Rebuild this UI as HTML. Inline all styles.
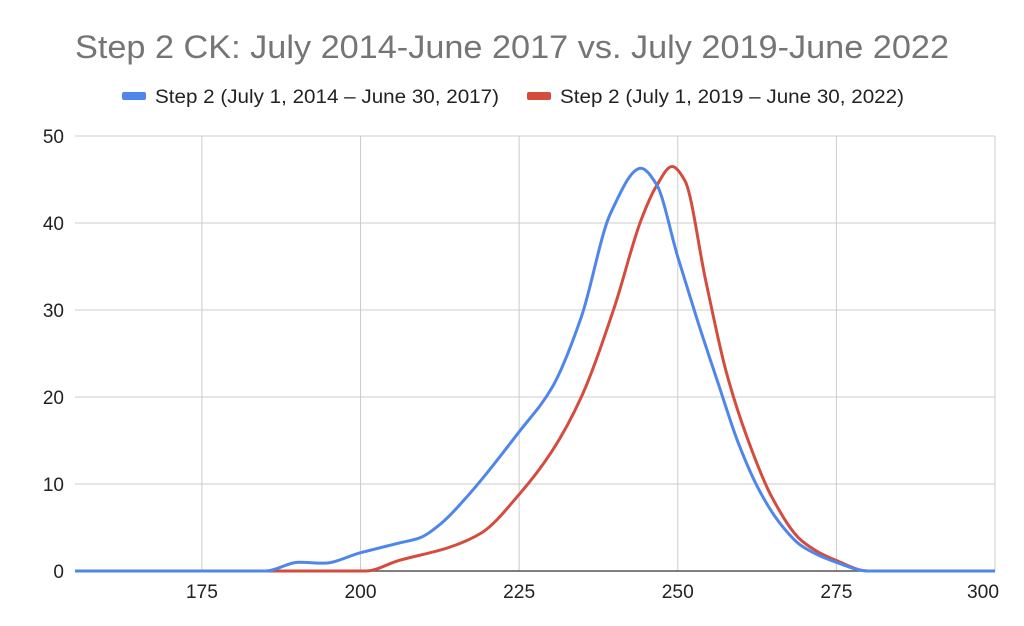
<!DOCTYPE html>
<html><head><meta charset="utf-8">
<style>
html,body{margin:0;padding:0;background:#fff;}
svg{display:block;font-family:"Liberation Sans",Arial,sans-serif;}
</style></head>
<body>
<svg id="chart" width="1024" height="626" viewBox="0 0 1024 626">
  <text x="512" y="58" text-anchor="middle" font-size="32" fill="#757575" textLength="874" lengthAdjust="spacingAndGlyphs">Step 2 CK: July 2014-June 2017 vs. July 2019-June 2022</text>
  <g>
    <g>
      <rect x="122" y="92" width="24" height="8" rx="2" fill="#4f86ec"/>
      <text x="155" y="103" font-size="19" fill="#222" textLength="344" lengthAdjust="spacingAndGlyphs">Step 2 (July 1, 2014 – June 30, 2017)</text>
    </g>
    <g>
      <rect x="527" y="92" width="24" height="8" rx="2" fill="#d44c3e"/>
      <text x="560" y="103" font-size="19" fill="#222" textLength="344" lengthAdjust="spacingAndGlyphs">Step 2 (July 1, 2019 – June 30, 2022)</text>
    </g>
  </g>
  <g id="grid"></g>
  <g id="axes"></g>
  <g id="series"></g>
</svg>
<script>
const xTicks = [175, 200, 225, 250, 275, 300];
const yTicks = [0, 10, 20, 30, 40, 50];
const blueX = [155, 185, 190.3, 194.2, 200, 206, 209.3, 212.6, 217.1, 225, 230.2, 234.8, 239.4, 244.2, 246.6, 250, 253.1, 256.4, 259.6, 262.9, 266.2, 269.5, 275, 280, 300];
const blueY = [0, 0, 1.0, 0.9, 2.1, 3.2, 3.8, 5.4, 8.8, 16, 21.1, 29.2, 41.1, 46.3, 44.5, 36.1, 28.8, 21.5, 14.6, 9.2, 5.4, 2.9, 1.0, 0, 0];
const redX = [155, 200.8, 206, 213.9, 219.1, 225, 230.2, 234.8, 240, 244.2, 246.6, 249.1, 251.1, 254.4, 257.6, 260.9, 264.9, 269.5, 275, 280, 300];
const redY = [0, 0, 1.2, 2.7, 4.4, 8.8, 13.8, 20, 30.3, 40.3, 44.2, 46.5, 44.9, 33.4, 23, 15.4, 8.4, 3.5, 1.2, 0, 0];

const NS = "http://www.w3.org/2000/svg";
const X0 = 75, X1 = 995, Y0 = 571, Y1 = 136;
const xMin = 155, xMax = 300, yMin = 0, yMax = 50;
function sx(v){ return X0 + (v - xMin) / (xMax - xMin) * (X1 - X0); }
function sy(v){ return Y0 - (v - yMin) / (yMax - yMin) * (Y0 - Y1); }
function mk(tag, attrs, parent){ const e = document.createElementNS(NS, tag); for (const k in attrs) e.setAttribute(k, attrs[k]); parent.appendChild(e); return e; }

const grid = document.getElementById('grid');
const axes = document.getElementById('axes');
for (const t of yTicks) {
  if (t !== 0) {
    const l = mk('line', {x1: X0, x2: X1, y1: sy(t), y2: sy(t), stroke: '#cccccc', 'stroke-width': 1}, grid);
    
    
  }
  const tx = mk('text', {x: 64, y: sy(t) + 7, 'text-anchor': 'end', 'font-size': 19, fill: '#222'}, axes);
  tx.textContent = t;
  
  
}
for (const t of xTicks) {
  const l = mk('line', {x1: sx(t), x2: sx(t), y1: Y1, y2: Y0, stroke: '#cccccc', 'stroke-width': 1}, grid);
  
  
  const tx = mk('text', {x: sx(t), y: 598, 'text-anchor': t === 300 ? 'end' : 'middle', 'font-size': 19, fill: '#222', textLength: 32, lengthAdjust: 'spacingAndGlyphs'}, axes);
  if (t === 300) tx.setAttribute('x', sx(t) + 4);
  tx.textContent = t;
  
  
}
const base = mk('line', {x1: X0, x2: X1, y1: Y0, y2: Y0, stroke: '#555', 'stroke-width': 1.5}, axes);



// monotone cubic (Fritsch-Carlson) in data space
function smoothPath(xs, ys){
  const n = xs.length, d = [], m = new Array(n);
  for (let i = 0; i < n - 1; i++) d.push((ys[i+1] - ys[i]) / (xs[i+1] - xs[i]));
  m[0] = d[0]; m[n-1] = d[n-2];
  for (let i = 1; i < n - 1; i++) {
    if (d[i-1] * d[i] <= 0) m[i] = 0;
    else {
      const h0 = xs[i] - xs[i-1], h1 = xs[i+1] - xs[i];
      const w1 = 2*h1 + h0, w2 = h1 + 2*h0;
      m[i] = (w1 + w2) / (w1 / d[i-1] + w2 / d[i]);
    }
  }
  let path = 'M' + sx(xs[0]).toFixed(2) + ',' + sy(ys[0]).toFixed(2);
  for (let i = 0; i < n - 1; i++) {
    const h = xs[i+1] - xs[i];
    const c1x = xs[i] + h/3, c1y = ys[i] + m[i]*h/3;
    const c2x = xs[i+1] - h/3, c2y = ys[i+1] - m[i+1]*h/3;
    path += ' C' + sx(c1x).toFixed(2) + ',' + sy(c1y).toFixed(2) + ' ' + sx(c2x).toFixed(2) + ',' + sy(c2y).toFixed(2) + ' ' + sx(xs[i+1]).toFixed(2) + ',' + sy(ys[i+1]).toFixed(2);
  }
  return path;
}
const series = document.getElementById('series');
const red = mk('path', {d: smoothPath(redX, redY), fill: 'none', stroke: '#d44c3e', 'stroke-width': 3, 'stroke-linejoin': 'round'}, series);


const blue = mk('path', {d: smoothPath(blueX, blueY), fill: 'none', stroke: '#4f86ec', 'stroke-width': 3, 'stroke-linejoin': 'round'}, series);


</script>
</body></html>
